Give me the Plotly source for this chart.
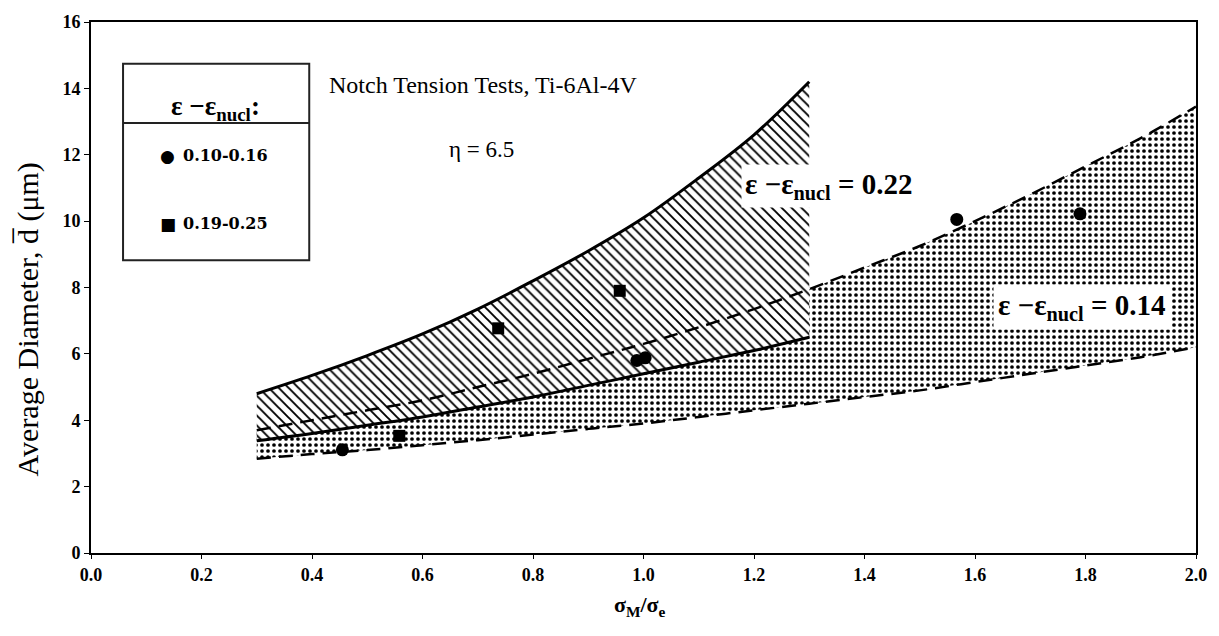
import plotly.graph_objects as go

# ---- data ----
x_022 = [0.3, 0.4, 0.5, 0.6, 0.7, 0.8, 0.9, 1.0, 1.1, 1.2, 1.3]
upper_022 = [4.8, 5.35, 5.95, 6.6, 7.35, 8.2, 9.1, 10.1, 11.3, 12.6, 14.2]
lower_022 = [3.38, 3.6, 3.85, 4.1, 4.4, 4.7, 5.05, 5.4, 5.75, 6.1, 6.5]

x_014 = [0.3, 0.4, 0.5, 0.6, 0.7, 0.8, 0.9, 1.0, 1.1, 1.2, 1.3, 1.4, 1.5, 1.6, 1.7, 1.8, 1.9, 2.0]
upper_014 = [3.7, 4.0, 4.3, 4.6, 5.0, 5.4, 5.85, 6.3, 6.8, 7.35, 7.95, 8.6, 9.25, 10.0, 10.8, 11.65, 12.5, 13.45]
lower_014 = [2.84, 2.98, 3.1, 3.25, 3.4, 3.57, 3.74, 3.9, 4.1, 4.3, 4.5, 4.7, 4.9, 5.15, 5.4, 5.65, 5.9, 6.2]

circ_x = [0.455, 0.988, 1.003, 1.567, 1.79]
circ_y = [3.11, 5.8, 5.88, 10.05, 10.22]
sq_x = [0.558, 0.737, 0.957]
sq_y = [3.53, 6.77, 7.9]

x_ticks = [0.0, 0.2, 0.4, 0.6, 0.8, 1.0, 1.2, 1.4, 1.6, 1.8, 2.0]
y_ticks = [0, 2, 4, 6, 8, 10, 12, 14, 16]

SERIF = "Liberation Serif, Times New Roman, serif"
WIDE = "DejaVu Serif, serif"
SYM = "DejaVu Sans, sans-serif"

fig = go.Figure()

# dotted band (0.14)
fig.add_trace(go.Scatter(
    x=x_014 + x_014[::-1], y=lower_014 + upper_014[::-1],
    fill="toself", mode="none", hoverinfo="skip", showlegend=False,
    fillcolor="white",
    fillpattern=dict(shape=".", size=6, solidity=0.3, fgcolor="black", bgcolor="white", fillmode="replace"),
))
# hatched band (0.22)
fig.add_trace(go.Scatter(
    x=x_022 + x_022[::-1], y=lower_022 + upper_022[::-1],
    fill="toself", mode="none", hoverinfo="skip", showlegend=False,
    fillcolor="white",
    fillpattern=dict(shape="\\", size=7, solidity=0.27, fgcolor="black", bgcolor="white", fillmode="replace"),
))

# dashed bounds (0.14)
for yy in (upper_014, lower_014):
    fig.add_trace(go.Scatter(x=x_014, y=yy, mode="lines", showlegend=False,
                             line=dict(color="black", width=2.5, dash="14px,8px", shape="spline")))
# solid bounds (0.22)
for yy in (upper_022, lower_022):
    fig.add_trace(go.Scatter(x=x_022, y=yy, mode="lines", showlegend=False,
                             line=dict(color="black", width=3, shape="spline")))

# data points
fig.add_trace(go.Scatter(x=circ_x, y=circ_y, mode="markers", name="0.10-0.16", showlegend=False,
                         marker=dict(symbol="circle", size=13, color="black")))
fig.add_trace(go.Scatter(x=sq_x, y=sq_y, mode="markers", name="0.19-0.25", showlegend=False,
                         marker=dict(symbol="square", size=12, color="black")))

# legend box drawn manually
fig.add_shape(type="rect", xref="x", yref="y", x0=0.058, x1=0.395, y0=8.82, y1=14.74,
              line=dict(color="#222", width=2), fillcolor="white", layer="above")
fig.add_shape(type="line", xref="x", yref="y", x0=0.058, x1=0.395, y0=12.96, y1=12.96,
              line=dict(color="#222", width=2), layer="above")

ann = [
    dict(x=0.225, y=13.4, text="<b>ε −ε<sub>nucl</sub>:</b>", font=dict(size=27)),
    dict(x=0.139, y=11.95, text="●", font=dict(size=17, family=SYM)),
    dict(x=0.163, y=11.99, text="<b>0.10-0.16</b>", xanchor="left", font=dict(size=16, family=WIDE)),
    dict(x=0.139, y=9.9, text="■", font=dict(size=17, family=SYM)),
    dict(x=0.163, y=9.94, text="<b>0.19-0.25</b>", xanchor="left", font=dict(size=16, family=WIDE)),
    dict(x=0.709, y=14.1, text="Notch Tension Tests, Ti-6Al-4V", font=dict(size=24)),
    dict(x=0.706, y=12.15, text="η = 6.5", font=dict(size=23)),
    dict(x=1.335, y=11.05, text="<b>ε −ε<sub>nucl</sub> = 0.22</b>", font=dict(size=29),
         bgcolor="white", borderpad=3),
    dict(x=1.794, y=7.4, text="<b>ε −ε<sub>nucl</sub> = 0.14</b>", font=dict(size=29),
         bgcolor="white", borderpad=4),
]
for a in ann:
    a.setdefault("xanchor", "center")
    f = dict(family=SERIF, color="black")
    f.update(a["font"])
    a["font"] = f
    fig.add_annotation(showarrow=False, xref="x", yref="y", yanchor="middle", **a)

# axis titles
fig.add_annotation(xref="paper", yref="paper", x=-0.057, y=0.44, textangle=-90, showarrow=False,
                   xanchor="center", yanchor="middle",
                   text="Average Diameter, d\u0305 (μm)", font=dict(family=SERIF, size=30, color="black"))
fig.add_annotation(xref="paper", yref="paper", x=0.497, y=-0.1, showarrow=False, yanchor="middle",
                   text="<b>σ<sub>M</sub>/σ<sub>e</sub></b>", font=dict(family=SERIF, size=22, color="black"))

fig.update_xaxes(range=[0, 2.0], tickvals=x_ticks, ticktext=[f"<b>{v:.1f}</b>" for v in x_ticks],
                 showline=True, mirror=True, linecolor="black", linewidth=2,
                 ticks="outside", ticklen=4, tickcolor="black", showgrid=False, zeroline=False,
                 tickfont=dict(family=SERIF, size=18, color="black"))
fig.update_yaxes(range=[0, 16], tickvals=y_ticks, ticktext=[f"<b>{v}</b>" for v in y_ticks],
                 showline=True, mirror=True, linecolor="black", linewidth=2,
                 ticks="outside", ticklen=5, tickcolor="black", showgrid=False, zeroline=False,
                 tickfont=dict(family=SERIF, size=18, color="black"))

fig.update_layout(width=1219, height=636, margin=dict(l=91, r=19, t=20, b=83),
                  plot_bgcolor="white", paper_bgcolor="white",
                  font=dict(family=SERIF, color="black"))

fig.write_html("out.html", config={"displayModeBar": False},
               post_script="document.body.style.margin='0';")
